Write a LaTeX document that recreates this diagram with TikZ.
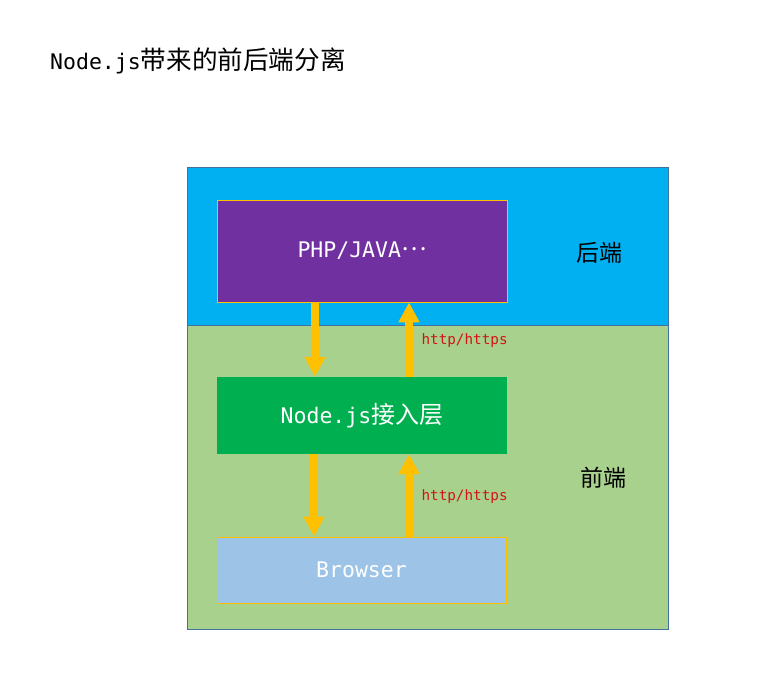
\documentclass[tikz,border=0pt]{standalone}
\usepackage{fontspec}
\setmainfont{Noto Sans CJK SC}
\newfontfamily\halfwidth{DejaVu Sans Mono}
\usetikzlibrary{arrows.meta}
\newcommand\lat[1]{{\halfwidth\fontsize{21.5}{26}\selectfont #1}}
\definecolor{backblue}{RGB}{0,176,240}
\definecolor{frontgreen}{RGB}{169,209,142}
\definecolor{edgeslate}{RGB}{65,113,156}
\definecolor{serverpurple}{RGB}{112,48,160}
\definecolor{nodegreen}{RGB}{0,176,80}
\definecolor{browserblue}{RGB}{157,195,230}
\definecolor{arrowgold}{RGB}{255,192,0}
\definecolor{labelred}{RGB}{210,20,20}
\tikzset{
  layerbox/.style={minimum width=290pt,inner sep=0pt,text=white,
    font=\fontsize{24}{28}\selectfont},
  flow/.style={draw=arrowgold,line width=8pt,
    -{Triangle[width=20pt,length=20pt]}},
  proto/.style={text=labelred,font=\halfwidth\fontsize{14.3}{17}\selectfont,anchor=west},
  side/.style={font=\fontsize{23}{27}\selectfont}
}
\begin{document}
\begin{tikzpicture}[x=1pt,y=-1pt]
  \useasboundingbox[fill=white] (0,0) rectangle (772,687);
  \node[anchor=west,inner sep=0pt,font=\fontsize{25.6}{30}\selectfont] (title) at (50,61)
    {\lat{Node.js}带来的前后端分离};
  % back end and front end areas
  \fill[backblue] (187,167) rectangle (668,325);
  \fill[frontgreen] (187,325) rectangle (668,629);
  \draw[edgeslate,line width=0.8pt] (187,325) -- (668,325);
  \draw[edgeslate,line width=0.8pt] (187,167) rectangle (668,629);
  \node[side] (backlabel) at (599,253) {后端};
  \node[side] (frontlabel) at (603,478) {前端};
  % layers
  \node[layerbox,fill=serverpurple,draw=arrowgold,line width=0.8pt,
    minimum height=102pt] (server) at (362,251) {\raisebox{-3pt}{\lat{PHP/JAVA}\raisebox{0.3em}{…}}};
  \node[layerbox,fill=nodegreen,minimum height=77pt] (nodejs) at (362,415.5) {\lat{Node.js}接入层};
  \node[layerbox,fill=browserblue,draw=arrowgold,line width=1pt,
    minimum width=289pt,minimum height=66pt] (browser) at (361.5,570) {\raisebox{-3pt}{\lat{Browser}}};
  % requests and responses
  \draw[flow] (server.south -| 315,0) -- (nodejs.north -| 315,0);
  \draw[flow] (nodejs.north -| 409,0) -- (server.south -| 409,0);
  \draw[flow] (nodejs.south -| 314,0) -- (browser.north -| 314,0);
  \draw[flow] (browser.north -| 409,0) -- (nodejs.south -| 409,0);
  \node[proto] (upper) at (418,341) {http/https};
  \node[proto] (lower) at (418,497) {http/https};
\end{tikzpicture}
\end{document}
